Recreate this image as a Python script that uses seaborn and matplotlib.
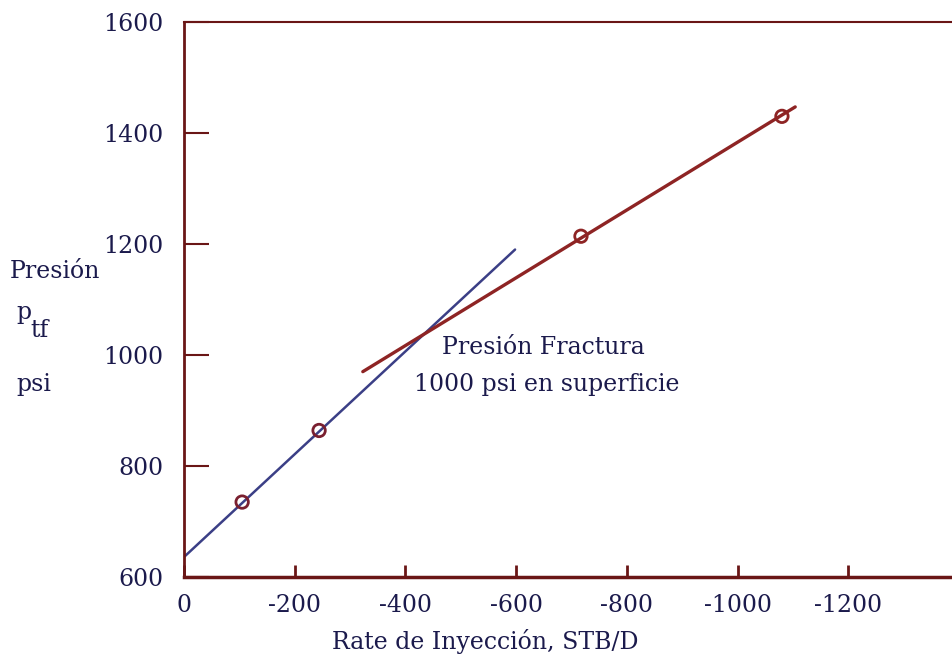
import matplotlib
matplotlib.use("Agg")
import matplotlib.pyplot as plt
import seaborn as sns
import pandas as pd

# ---- data ----
line1_x = [0, -598]
line1_y = [636, 1190]
line2_x = [-323, -1104]
line2_y = [970, 1447]
points_x = [-105, -244, -717, -1080]
points_y = [735, 864, 1214, 1430]
point_group = ["low", "low", "high", "high"]
xticks = [0, -200, -400, -600, -800, -1000, -1200]
xtick_labels = ["0", "-200", "-400", "-600", "-800", "-1000", "-1200"]
yticks = [600, 800, 1000, 1200, 1400, 1600]
ytick_labels = ["600", "800", "1000", "1200", "1400", "1600"]

sns.set_theme(style="white")
plt.rcParams["font.family"] = ["DejaVu Serif", "DejaVu Sans"]
plt.rcParams["axes.unicode_minus"] = False

TEXT = "#1b1a4c"
SPINE = "#6a1616"
BLUE = "#3b3f86"
RED = "#8e2424"
FS = 17

fig = plt.figure(figsize=(9.53, 6.66), dpi=100)
ax_w = (963 - 184) / 953
ax = fig.add_axes([184 / 953, 1 - 577 / 666, ax_w, (577 - 22) / 666])

df1 = pd.DataFrame({"x": line1_x, "y": line1_y})
df2 = pd.DataFrame({"x": line2_x, "y": line2_y})
dfp = pd.DataFrame({"x": points_x, "y": points_y, "g": point_group})

sns.lineplot(data=df1, x="x", y="y", ax=ax, color=BLUE, linewidth=1.8, sort=False)
sns.lineplot(data=df2, x="x", y="y", ax=ax, color=RED, linewidth=2.4, sort=False)
sns.scatterplot(data=dfp, x="x", y="y", hue="g", palette={"low": "#7a2030", "high": RED},
                ax=ax, s=80, marker="o", linewidth=2.0, legend=False, zorder=5)
for coll in ax.collections:
    coll.set_facecolor("none")
    coll.set_edgecolor(["#7a2030", "#7a2030", RED, RED])

ax.set_xlim(0, -1389 * (963 - 184) / (953 - 184))
ax.set_ylim(600, 1600)
ax.set_xticks(xticks)
ax.set_xticklabels(xtick_labels)
ax.set_yticks(yticks)
ax.set_yticklabels(ytick_labels)
ax.set_xlabel("")
ax.set_ylabel("")

ax.tick_params(axis="x", bottom=True, direction="in", length=9, width=2, color=SPINE,
               labelsize=FS, labelcolor=TEXT, pad=12)
ax.tick_params(axis="y", left=True, direction="in", length=18, width=1.5, color=SPINE,
               labelsize=FS, labelcolor=TEXT, pad=15)

for side in ["left", "bottom", "top"]:
    ax.spines[side].set_visible(True)
    ax.spines[side].set_color(SPINE)
ax.spines["left"].set_linewidth(2)
ax.spines["bottom"].set_linewidth(2.5)
ax.spines["top"].set_linewidth(1.5)
ax.spines["right"].set_visible(False)

# axis titles
fig.text(485 / 953, 1 - 641 / 666, "Rate de Inyección, STB/D", ha="center", va="center",
         fontsize=FS, color=TEXT)
fig.text(10 / 953, 1 - 272 / 666, "Presión", ha="left", va="center", fontsize=FS, color=TEXT)
fig.text(16 / 953, 1 - 312 / 666, "p", ha="left", va="center", fontsize=FS, color=TEXT)
fig.text(30 / 953, 1 - 330 / 666, "tf", ha="left", va="center", fontsize=FS, color=TEXT)
fig.text(16 / 953, 1 - 385 / 666, "psi", ha="left", va="center", fontsize=FS, color=TEXT)

# annotation
fig.text(543 / 953, 1 - 348 / 666, "Presión Fractura", ha="center", va="center",
         fontsize=FS, color=TEXT)
fig.text(547 / 953, 1 - 384 / 666, "1000 psi en superficie", ha="center", va="center",
         fontsize=FS, color=TEXT)

fig.savefig("out.png", dpi=100)
